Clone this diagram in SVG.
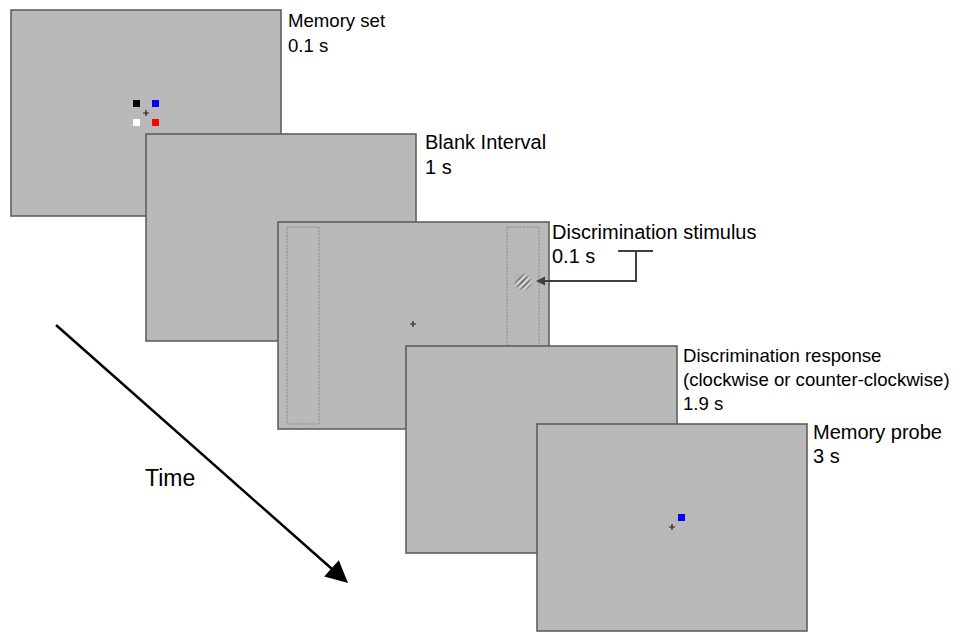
<svg xmlns="http://www.w3.org/2000/svg" width="972" height="635" viewBox="0 0 972 635">
<style>
.screen{fill:#b9b9b9;stroke:#625e5e;stroke-width:1.6}
.lbl{font-family:"Liberation Sans",Arial,sans-serif;font-size:20px;fill:#000}
.sm{font-size:18.6px}
.fix{stroke:#222;stroke-width:1.2}
.dot{fill:none;stroke:#8a8a8a;stroke-width:1;stroke-dasharray:2 1.2}
.conn{fill:none;stroke:#404040;stroke-width:2}
</style>
<defs>
<radialGradient id="fade" cx="0.5" cy="0.5" r="0.5">
<stop offset="0" stop-color="#fff" stop-opacity="1"/>
<stop offset="0.6" stop-color="#fff" stop-opacity="0.6"/>
<stop offset="1" stop-color="#fff" stop-opacity="0"/>
</radialGradient>
<mask id="gmask"><circle cx="523" cy="282" r="10" fill="url(#fade)"/></mask>
</defs>

<g id="memory-set">
<rect class="screen" x="11" y="10" width="270" height="206"/>
<rect x="133" y="100" width="7" height="7" fill="#000"/>
<rect x="152" y="100" width="7" height="7" fill="#0000ff"/>
<rect x="133" y="119" width="7" height="7" fill="#fff"/>
<rect x="152" y="119" width="7" height="7" fill="#ff0000"/>
<path class="fix" d="M143 113h6M146 110v6"/>
<text class="lbl sm" x="288" y="27">Memory set</text>
<text class="lbl sm" x="288" y="52">0.1 s</text>
</g>

<g id="blank-interval">
<rect class="screen" x="146" y="134" width="270" height="207"/>
<text class="lbl" x="425" y="149">Blank Interval</text>
<text class="lbl" x="425" y="174">1 s</text>
</g>

<g id="discrimination-stimulus">
<rect class="screen" x="278" y="222" width="271" height="207"/>
<rect class="dot" x="287" y="227" width="32" height="197"/>
<rect class="dot" x="507" y="227" width="32" height="197"/>
<path class="fix" d="M410 324h6M413 321v6"/>
<g mask="url(#gmask)" stroke-width="1.6">
<path d="M508 290l22-22M511 293l22-22M514 296l22-22" stroke="#555"/>
<path d="M509.5 291.5l22-22M512.5 294.5l22-22M515.5 297.5l22-22" stroke="#e8e8e8"/>
<path d="M505 287l22-22M517 299l22-22" stroke="#555"/>
</g>
<text class="lbl" x="552" y="239">Discrimination stimulus</text>
<text class="lbl" x="552" y="263">0.1 s</text>
</g>

<g id="discrimination-response">
<rect class="screen" x="406" y="346" width="271" height="207"/>
<text class="lbl sm" x="683" y="362">Discrimination response</text>
<text class="lbl sm" x="683" y="386">(clockwise or counter-clockwise)</text>
<text class="lbl sm" x="683" y="410">1.9 s</text>
</g>

<g id="memory-probe">
<rect class="screen" x="537" y="424" width="270" height="207"/>
<rect x="678" y="514" width="7" height="7" fill="#0000ff"/>
<path class="fix" d="M669 527h6M672 524v6"/>
<text class="lbl" x="813" y="439">Memory probe</text>
<text class="lbl" x="813" y="463">3 s</text>
</g>

<g id="time-label">
<text class="lbl" x="145" y="486" style="font-size:23px">Time</text>
</g>

<g id="connectors">
<path class="conn" d="M618 251h35M636 251v30H544"/>
<polygon points="536,281 545,276.5 545,285.5" fill="#404040"/>
<line x1="56" y1="325" x2="332" y2="569" stroke="#000" stroke-width="2.5"/>
<polygon points="348,583 324.2,576.6 338.8,560.2" fill="#000"/>
</g>
</svg>
